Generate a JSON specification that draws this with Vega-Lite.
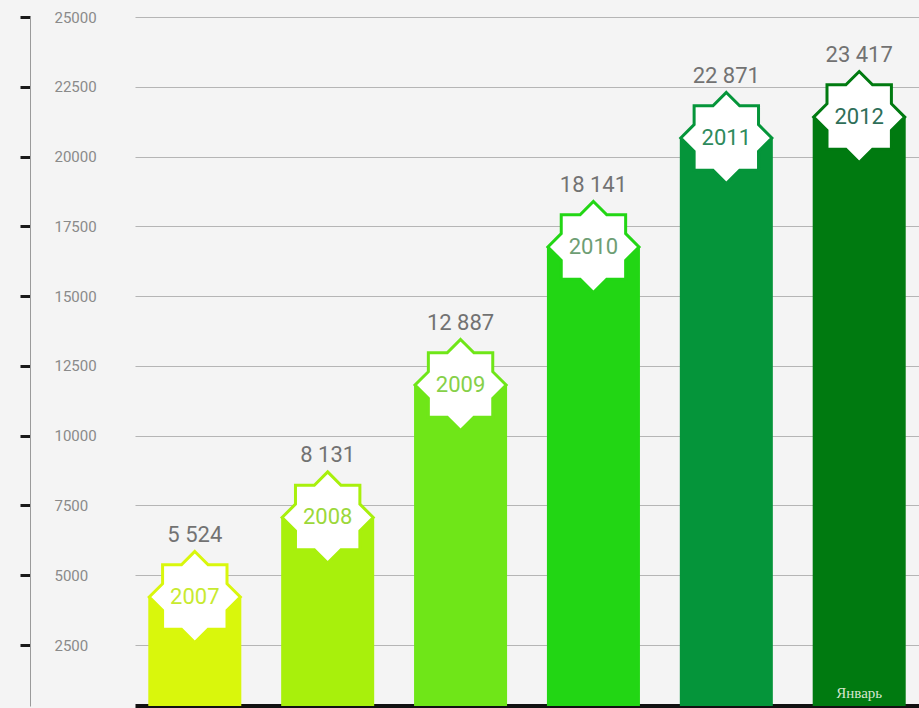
{
  "$schema": "https://vega.github.io/schema/vega-lite/v6.json",
  "autosize": {"type": "none"},
  "width": 784,
  "height": 689,
  "padding": {"left": 135, "top": 17, "right": 0, "bottom": 2},
  "background": "#f4f4f4",
  "config": {
    "view": {"stroke": null},
    "font": "Roboto",
    "locale": {"number": {"decimal": ",", "thousands": " ", "grouping": [3], "currency": ["", ""]}}
  },
  "data": {
    "values": [
      {"year": "2007", "value": 5524, "bar": 4220, "note": ""},
      {"year": "2008", "value": 8131, "bar": 7070, "note": ""},
      {"year": "2009", "value": 12887, "bar": 11815, "note": ""},
      {"year": "2010", "value": 18141, "bar": 16760, "note": ""},
      {"year": "2011", "value": 22871, "bar": 20665, "note": ""},
      {"year": "2012", "value": 23417, "bar": 21415, "note": "Январь"}
    ]
  },
  "encoding": {
    "x": {
      "field": "year", "type": "nominal", "sort": null,
      "scale": {"paddingInner": 0.3, "paddingOuter": 0.1},
      "axis": {"title": null, "labels": false, "ticks": false, "domain": true, "domainColor": "#111111", "domainWidth": 5, "grid": false}
    }
  },
  "layer": [
    {
      "mark": {"type": "bar", "clip": true},
      "encoding": {
        "y": {
          "field": "bar", "type": "quantitative",
          "scale": {"domain": [316, 25000], "zero": false, "nice": false},
          "axis": {
            "title": null, "orient": "left", "offset": 105,
            "values": [2500, 5000, 7500, 10000, 12500, 15000, 17500, 20000, 22500, 25000],
            "format": "d",
            "domainColor": "#9a9a9a", "domainWidth": 1,
            "tickColor": "#1a1a1a", "tickWidth": 3, "tickSize": 10,
            "labelAlign": "left", "labelPadding": -34, "labelBaseline": "middle",
            "labelFontSize": 15, "labelColor": "#8a8a8a", "labelFont": "Roboto",
            "grid": true, "gridColor": "#b5b5b5", "gridWidth": 1
          }
        },
        "color": {
          "field": "year", "type": "nominal", "legend": null,
          "scale": {"domain": ["2007", "2008", "2009", "2010", "2011", "2012"],
                    "range": ["#d9f70c", "#a8f00c", "#6fe618", "#22d614", "#05953a", "#007a10"]}
        }
      }
    },
    {
      "mark": {
        "type": "point",
        "shape": "M0,-1L0.2928,-0.7068L0.7071,-0.7071L0.7068,-0.2928L1,0L0.7068,0.2928L0.7071,0.7071L0.2928,0.7068L0,1L-0.2928,0.7068L-0.7071,0.7071L-0.7068,0.2928L-1,0L-0.7068,-0.2928L-0.7071,-0.7071L-0.2928,-0.7068Z",
        "filled": true, "fill": "#ffffff", "size": 8300, "strokeWidth": 3, "opacity": 1, "fillOpacity": 1
      },
      "encoding": {
        "y": {"field": "bar", "type": "quantitative"},
        "stroke": {
          "field": "year", "type": "nominal", "legend": null,
          "scale": {"domain": ["2007", "2008", "2009", "2010", "2011", "2012"],
                    "range": ["#d9f70c", "#a8f00c", "#6fe618", "#22d614", "#05953a", "#007a10"]}
        }
      }
    },
    {
      "mark": {"type": "text", "fontSize": 22, "baseline": "middle", "align": "center", "font": "Roboto"},
      "encoding": {
        "y": {"field": "bar", "type": "quantitative"},
        "text": {"field": "year"},
        "color": {
          "field": "year", "type": "nominal", "legend": null,
          "scale": {"domain": ["2007", "2008", "2009", "2010", "2011", "2012"],
                    "range": ["#c8ea30", "#9cd83a", "#86d048", "#6e9e74", "#2e8a5c", "#2e6e58"]}
        }
      }
    },
    {
      "mark": {"type": "text", "fontSize": 22, "baseline": "middle", "align": "center", "dy": -62, "color": "#727272", "font": "Roboto"},
      "encoding": {
        "y": {"field": "bar", "type": "quantitative"},
        "text": {"field": "value", "type": "quantitative", "format": ",d"}
      }
    },
    {
      "transform": [{"filter": "datum.note != ''"}],
      "mark": {"type": "text", "fontSize": 15, "baseline": "bottom", "align": "center", "dy": -5, "color": "#d6e6cf", "font": "Liberation Serif"},
      "encoding": {
        "y": {"datum": 316, "type": "quantitative"},
        "text": {"field": "note"}
      }
    }
  ],
  "resolve": {"scale": {"color": "independent"}}
}
